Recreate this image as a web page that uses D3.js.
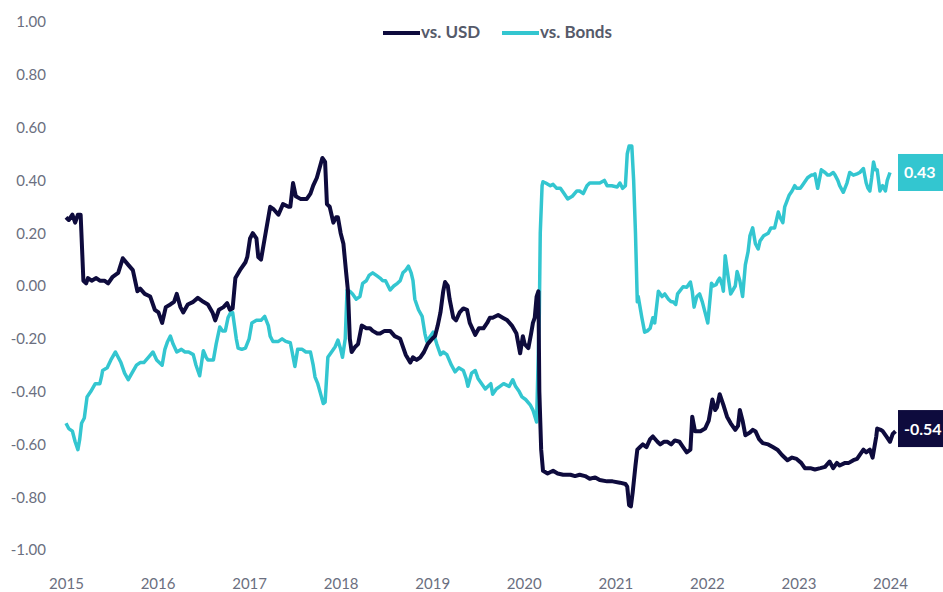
<html>
<head>
  <script src="https://d3js.org/d3.v7.min.js"></script>
  <style>
    body { margin: 0; background: #fff; }
    text { font-family: Lato, "Open Sans", sans-serif; }
  </style>
</head>
<body>
  <svg id="chart" width="943" height="592"></svg>

  <script>
    // Rolling correlation, dates as decimal years
    let usdYears = [2015.00,2015.03,2015.07,2015.10,2015.13,2015.16,2015.19,2015.22,2015.24,2015.28,2015.33,2015.37,2015.42,2015.46,2015.51,2015.57,2015.62,2015.68,2015.73,2015.78,2015.81,2015.86,2015.92,2015.97,
      2016.01,2016.05,2016.09,2016.14,2016.18,2016.21,2016.25,2016.28,2016.33,2016.39,2016.44,2016.50,2016.55,2016.60,2016.63,2016.67,2016.72,2016.76,2016.79,2016.82,2016.85,2016.90,2016.96,2016.98,
      2017.01,2017.04,2017.08,2017.10,2017.13,2017.17,2017.23,2017.27,2017.32,2017.37,2017.43,2017.45,2017.48,2017.51,2017.56,2017.63,2017.67,2017.70,2017.74,2017.80,2017.83,2017.85,2017.88,2017.92,2017.95,2017.97,
      2018.00,2018.03,2018.06,2018.08,2018.10,2018.12,2018.16,2018.19,2018.23,2018.28,2018.32,2018.35,2018.40,2018.43,2018.48,2018.54,2018.59,2018.65,2018.67,2018.71,2018.76,2018.79,2018.83,2018.87,2018.91,2018.95,
      2019.00,2019.03,2019.06,2019.09,2019.12,2019.14,2019.17,2019.19,2019.23,2019.26,2019.30,2019.34,2019.38,2019.41,2019.45,2019.47,2019.51,2019.56,2019.60,2019.63,2019.66,2019.72,2019.77,2019.82,2019.87,2019.92,2019.96,2019.99,
      2020.01,2020.05,2020.08,2020.10,2020.12,2020.14,2020.16,2020.17,2020.19,2020.21,2020.26,2020.32,2020.37,2020.43,2020.51,2020.56,2020.61,2020.67,2020.72,2020.78,2020.83,2020.91,2020.97,
      2021.05,2021.11,2021.13,2021.15,2021.17,2021.19,2021.22,2021.24,2021.27,2021.30,2021.34,2021.38,2021.41,2021.46,2021.49,2021.53,2021.57,2021.61,2021.65,2021.70,2021.74,2021.78,2021.82,2021.84,2021.87,2021.93,2021.98,
      2022.02,2022.06,2022.09,2022.11,2022.14,2022.18,2022.22,2022.26,2022.31,2022.34,2022.36,2022.39,2022.42,2022.47,2022.50,2022.53,2022.57,2022.61,2022.67,2022.72,2022.77,2022.82,2022.88,2022.93,2022.98,
      2023.03,2023.07,2023.13,2023.18,2023.24,2023.29,2023.34,2023.38,2023.42,2023.45,2023.51,2023.55,2023.60,2023.64,2023.67,2023.71,2023.74,2023.78,2023.81,2023.85,2023.86,2023.90,2023.92,2023.96,
      2024.00,2024.03,2024.06];
    let usdValues = [0.26,0.25,0.27,0.24,0.27,0.27,0.02,0.01,0.03,0.02,0.03,0.02,0.02,0.01,0.035,0.05,0.105,0.08,0.06,-0.02,-0.01,-0.03,-0.04,-0.09,
      -0.10,-0.14,-0.08,-0.07,-0.06,-0.03,-0.08,-0.10,-0.07,-0.06,-0.045,-0.06,-0.07,-0.10,-0.13,-0.09,-0.08,-0.065,-0.09,-0.085,0.03,0.06,0.09,0.11,
      0.18,0.20,0.18,0.11,0.10,0.18,0.30,0.29,0.27,0.31,0.30,0.30,0.39,0.34,0.33,0.33,0.35,0.38,0.41,0.485,0.47,0.31,0.30,0.24,0.26,0.26,
      0.20,0.16,0.05,-0.02,-0.20,-0.25,-0.23,-0.22,-0.15,-0.16,-0.16,-0.17,-0.18,-0.18,-0.17,-0.17,-0.19,-0.20,-0.22,-0.26,-0.29,-0.27,-0.28,-0.27,-0.25,-0.22,
      -0.20,-0.19,-0.15,-0.10,-0.02,0.015,0.00,-0.05,-0.12,-0.13,-0.10,-0.085,-0.09,-0.14,-0.17,-0.185,-0.16,-0.16,-0.14,-0.12,-0.12,-0.11,-0.12,-0.13,-0.15,-0.18,-0.255,-0.19,
      -0.22,-0.235,-0.18,-0.14,-0.12,-0.04,-0.02,-0.40,-0.62,-0.70,-0.71,-0.70,-0.71,-0.715,-0.715,-0.72,-0.715,-0.72,-0.73,-0.725,-0.735,-0.74,-0.74,
      -0.745,-0.75,-0.76,-0.83,-0.835,-0.78,-0.68,-0.62,-0.61,-0.60,-0.61,-0.58,-0.57,-0.59,-0.60,-0.59,-0.59,-0.60,-0.585,-0.59,-0.61,-0.63,-0.62,-0.495,-0.55,-0.55,-0.54,
      -0.51,-0.43,-0.47,-0.46,-0.41,-0.45,-0.495,-0.52,-0.545,-0.53,-0.47,-0.51,-0.565,-0.555,-0.545,-0.55,-0.58,-0.595,-0.60,-0.61,-0.62,-0.64,-0.66,-0.65,-0.655,
      -0.67,-0.69,-0.69,-0.695,-0.69,-0.685,-0.665,-0.69,-0.67,-0.68,-0.67,-0.67,-0.66,-0.655,-0.64,-0.62,-0.63,-0.62,-0.65,-0.57,-0.54,-0.545,-0.55,-0.57,
      -0.59,-0.56,-0.55];

    let bondYears = [2015.00,2015.03,2015.07,2015.10,2015.13,2015.15,2015.17,2015.20,2015.23,2015.27,2015.32,2015.35,2015.37,2015.39,2015.40,2015.45,2015.49,2015.54,2015.57,2015.60,2015.64,2015.68,2015.72,2015.77,2015.81,2015.85,2015.90,2015.95,2015.99,
      2016.05,2016.08,2016.11,2016.14,2016.17,2016.21,2016.26,2016.30,2016.34,2016.39,2016.42,2016.46,2016.50,2016.53,2016.55,2016.61,2016.64,2016.68,2016.71,2016.74,2016.77,2016.80,2016.82,2016.86,2016.88,2016.92,2016.96,
      2017.00,2017.03,2017.08,2017.13,2017.17,2017.21,2017.23,2017.26,2017.32,2017.36,2017.40,2017.45,2017.47,2017.50,2017.53,2017.58,2017.62,2017.67,2017.70,2017.72,2017.75,2017.79,2017.81,2017.83,2017.86,2017.91,2017.94,2017.97,
      2018.00,2018.02,2018.05,2018.07,2018.10,2018.13,2018.17,2018.21,2018.24,2018.28,2018.31,2018.35,2018.39,2018.43,2018.46,2018.49,2018.54,2018.58,2018.62,2018.65,2018.68,2018.71,2018.74,2018.77,2018.79,2018.81,2018.85,2018.89,2018.92,2018.94,2018.98,
      2019.01,2019.05,2019.09,2019.12,2019.16,2019.21,2019.25,2019.29,2019.34,2019.37,2019.39,2019.43,2019.47,2019.50,2019.54,2019.58,2019.61,2019.64,2019.66,2019.70,2019.74,2019.78,2019.84,2019.88,2019.91,2019.95,2019.98,
      2020.02,2020.07,2020.10,2020.14,2020.17,2020.18,2020.20,2020.21,2020.24,2020.29,2020.32,2020.36,2020.40,2020.44,2020.48,2020.53,2020.58,2020.61,2020.65,2020.69,2020.72,2020.78,2020.83,2020.88,2020.91,2020.96,
      2021.02,2021.05,2021.08,2021.11,2021.13,2021.15,2021.18,2021.20,2021.22,2021.24,2021.25,2021.29,2021.32,2021.35,2021.38,2021.41,2021.43,2021.47,2021.51,2021.54,2021.58,2021.61,2021.63,2021.66,2021.68,2021.74,2021.78,2021.82,2021.84,2021.86,2021.89,2021.92,2021.95,2021.98,
      2022.01,2022.05,2022.07,2022.10,2022.12,2022.14,2022.17,2022.18,2022.20,2022.23,2022.26,2022.31,2022.33,2022.36,2022.39,2022.42,2022.45,2022.47,2022.50,2022.53,2022.56,2022.58,2022.62,2022.67,2022.70,2022.74,2022.78,2022.80,2022.83,2022.85,2022.90,2022.93,2022.96,2022.98,
      2023.02,2023.04,2023.07,2023.10,2023.14,2023.16,2023.18,2023.21,2023.25,2023.29,2023.32,2023.34,2023.38,2023.40,2023.43,2023.45,2023.49,2023.53,2023.56,2023.60,2023.64,2023.67,2023.71,2023.74,2023.76,2023.78,2023.80,2023.82,2023.84,2023.86,2023.89,2023.92,2023.95,2023.97,
      2024.00,2024.02,2024.06];
    let bondValues = [-0.52,-0.54,-0.55,-0.59,-0.62,-0.58,-0.52,-0.50,-0.42,-0.40,-0.37,-0.37,-0.37,-0.34,-0.32,-0.31,-0.28,-0.25,-0.27,-0.29,-0.33,-0.355,-0.33,-0.30,-0.29,-0.29,-0.27,-0.25,-0.28,
      -0.30,-0.24,-0.21,-0.19,-0.22,-0.25,-0.24,-0.25,-0.25,-0.26,-0.30,-0.34,-0.245,-0.27,-0.28,-0.28,-0.22,-0.155,-0.17,-0.17,-0.12,-0.10,-0.10,-0.20,-0.235,-0.24,-0.235,
      -0.20,-0.14,-0.13,-0.13,-0.115,-0.15,-0.19,-0.21,-0.21,-0.20,-0.21,-0.215,-0.25,-0.305,-0.24,-0.24,-0.25,-0.25,-0.30,-0.345,-0.37,-0.42,-0.445,-0.44,-0.27,-0.245,-0.23,-0.205,
      -0.24,-0.27,-0.20,-0.015,-0.02,-0.03,-0.05,-0.04,0.01,0.02,0.04,0.05,0.04,0.03,0.02,0.02,-0.015,0.00,0.01,0.02,0.05,0.06,0.075,0.05,0.02,-0.05,-0.09,-0.115,-0.18,-0.21,-0.19,
      -0.175,-0.22,-0.26,-0.25,-0.26,-0.30,-0.325,-0.31,-0.32,-0.35,-0.38,-0.33,-0.32,-0.35,-0.37,-0.39,-0.38,-0.37,-0.41,-0.39,-0.38,-0.37,-0.38,-0.355,-0.38,-0.40,-0.42,
      -0.43,-0.45,-0.47,-0.515,-0.10,0.20,0.38,0.395,0.39,0.38,0.385,0.37,0.37,0.35,0.33,0.34,0.36,0.36,0.35,0.38,0.39,0.39,0.39,0.40,0.38,0.38,
      0.375,0.39,0.37,0.38,0.50,0.53,0.53,0.40,0.20,-0.06,-0.04,-0.12,-0.175,-0.17,-0.16,-0.12,-0.14,-0.02,-0.04,-0.03,-0.05,-0.06,-0.06,-0.07,-0.03,-0.003,-0.005,0.015,-0.02,-0.08,-0.04,-0.03,
      -0.06,-0.10,-0.14,0.01,0.00,0.005,0.02,0.03,0.00,-0.02,0.115,0.04,-0.03,0.00,0.055,0.02,-0.04,0.08,0.13,0.19,0.22,0.16,0.14,0.17,0.19,0.20,0.22,0.22,0.28,0.26,0.24,0.30,0.345,0.36,
      0.38,0.37,0.37,0.38,0.395,0.41,0.42,0.42,0.425,0.37,0.44,0.43,0.42,0.42,0.43,0.42,0.40,0.38,0.355,0.39,0.43,0.42,0.425,0.43,0.445,0.39,0.37,0.36,0.41,0.47,0.44,0.44,0.36,0.38,
      0.36,0.40,0.43];

    let yTicks = [1, 0.8, 0.6, 0.4, 0.2, 0, -0.2, -0.4, -0.6, -0.8, -1];
    let xTicks = [2015, 2016, 2017, 2018, 2019, 2020, 2021, 2022, 2023, 2024];
    let seriesNames = ["vs. USD", "vs. Bonds"];
    let seriesColors = ["#0e0b3d", "#33c6d0"];
    let lastLabels = ["-0.54", "0.43"];

    let svg = d3.select("#chart");

    let x = d3.scaleLinear().domain([2015, 2024]).range([66, 890]);
    let y = d3.scaleLinear().domain([-1, 1]).range([550, 22]);

    // Axes: labels only, no lines
    let yAxis = svg.append("g")
      .attr("transform", "translate(46,0)")
      .call(d3.axisLeft(y).tickValues(yTicks).tickFormat(d3.format(".2f")).tickSize(0).tickPadding(0));
    yAxis.select(".domain").remove();
    yAxis.selectAll("text")
      .text(d => d3.format(".2f")(d).replace("−", "-"))
      .attr("font-family", "Lato, sans-serif")
      .attr("font-size", 15)
      .attr("fill", "#6b6f80");

    let xAxis = svg.append("g")
      .attr("transform", "translate(0,578)")
      .call(d3.axisBottom(x).tickValues(xTicks).tickFormat(d3.format("d")).tickSize(0).tickPadding(0));
    xAxis.select(".domain").remove();
    xAxis.selectAll("text")
      .attr("font-family", "Lato, sans-serif")
      .attr("font-size", 15)
      .attr("fill", "#6b6f80");

    // Lines
    let series = [
      d3.zip(usdYears, usdValues),
      d3.zip(bondYears, bondValues)
    ];
    let line = d3.line().x(d => x(d[0])).y(d => y(d[1]));

    // draw bonds first so USD sits on top where it crosses
    [1, 0].forEach(i => {
      svg.append("path")
        .datum(series[i])
        .attr("d", line)
        .attr("fill", "none")
        .attr("stroke", seriesColors[i])
        .attr("stroke-width", i == 0 ? 4 : 3.5)
        .attr("stroke-linejoin", "round");
    });

    // End value labels
    series.forEach((s, i) => {
      let cy = y(+lastLabels[i]);
      svg.append("rect")
        .attr("x", 898).attr("y", cy - 18.5)
        .attr("width", 50).attr("height", 37)
        .attr("fill", seriesColors[i]);
      svg.append("text")
        .attr("x", 904).attr("y", cy + 6)
        .attr("font-family", "Lato, sans-serif")
        .attr("font-size", 16)
        .attr("font-weight", "bold")
        .attr("fill", "#fff")
        .text(lastLabels[i]);
    });

    // Legend
    let legendX = [383, 502];
    seriesNames.forEach((name, i) => {
      svg.append("line")
        .attr("x1", legendX[i]).attr("x2", legendX[i] + 37)
        .attr("y1", 33).attr("y2", 33)
        .attr("stroke", seriesColors[i])
        .attr("stroke-width", 4);
      svg.append("text")
        .attr("x", legendX[i] + 38).attr("y", 38)
        .attr("font-family", "Lato, sans-serif")
        .attr("font-size", 17)
        .attr("font-weight", "bold")
        .attr("fill", "#555a6a")
        .text(name);
    });
  </script>
</body>
</html>
